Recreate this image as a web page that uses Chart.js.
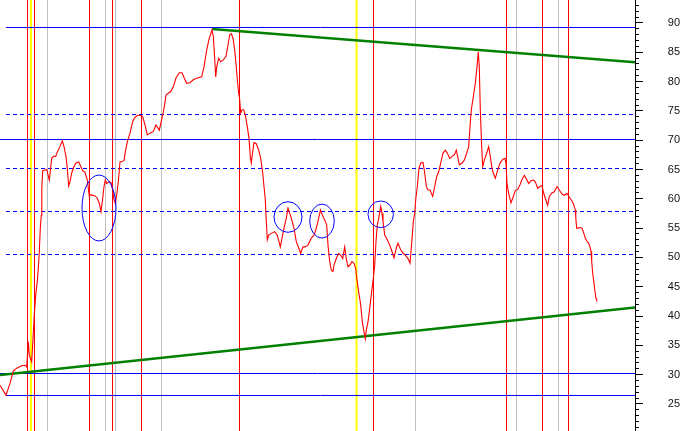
<!DOCTYPE html>
<html>
<head>
<meta charset="utf-8">
<script src="https://cdn.jsdelivr.net/npm/chart.js@4/dist/chart.umd.min.js"></script>
<style>
  html, body { margin: 0; padding: 0; background: #fff; }
  #wrap { width: 686px; height: 431px; }
</style>
</head>
<body>
<div id="wrap"><canvas id="chart"></canvas></div>
<script>
// axis range (price units) and x range (trading days)
const yMin = 20.38, yMax = 93.92;
const xMin = 0, xMax = 635;
const tickLabels = [25, 30, 35, 40, 45, 50, 55, 60, 65, 70, 75, 80, 85, 90];

// price line
const dayIdx = [0, 6, 10, 13.3, 16.7, 21.7, 25, 26.7, 28.3, 29.3, 31.7, 33.3, 34.3, 35.7, 37.3, 38.3, 39.3, 40.3, 41.3, 41.8,
  42.7, 45, 46.7, 49.3, 51.7, 54, 55.7, 57.3, 60, 62.3, 64, 66, 67.3, 68.7, 70, 71.7, 74, 76, 78.7, 80,
  82.7, 85, 87.3, 89.3, 90.7, 95, 97.3, 99.3, 101, 102.7, 104, 105.3, 106.7, 108.7, 111, 112.7, 114, 115.3, 116.7, 118.3,
  120, 122.7, 124, 125.3, 127.3, 130, 132.7, 135, 137.3, 140, 142.7, 145, 147.3, 150, 153.3, 156, 159.3, 162.7, 164.3, 166,
  168.3, 170.7, 173.3, 176, 179.3, 182, 184, 186.7, 190, 193.3, 197.3, 201.7, 204, 206.7, 209.3, 212, 213.3, 214.3, 215.7, 216.7,
  218.7, 220.7, 223.3, 226, 228.3, 229.7, 231.3, 233, 234.7, 236.3, 237.3, 238.7, 239.7, 240.7, 242, 243.7, 245.3, 247.3, 249, 250.3,
  251.3, 252.7, 254, 256.3, 258.7, 260.7, 262.7, 264, 265.3, 266, 267.3, 268.7, 271.3, 274.7, 277.3, 279, 280.3, 282, 284, 286.3,
  288, 291.3, 294, 296.3, 298.7, 300.7, 303, 305.3, 308, 311.3, 314, 316.3, 318.7, 320.5, 323, 324.7, 326.7, 328, 329.7, 331.3,
  333, 334, 336.3, 338.7, 340.7, 342.7, 344.7, 346.3, 348, 350, 352, 354, 355.7, 357, 358.7, 360.7, 362.3, 364, 365.3, 366.3,
  368, 369.7, 371.3, 372.7, 373.7, 374.7, 376, 377.3, 378.7, 380.7, 382, 383, 384.7, 387.3, 389.7, 392, 394, 396.3, 398, 400.7,
  403, 405.3, 408, 410, 411.3, 412.3, 413.3, 414.7, 415.7, 417.3, 419, 420.7, 423, 424.7, 426.3, 428, 430, 432.7, 434.7, 436.7,
  438.7, 440.7, 443, 445.3, 447.3, 449.7, 452, 454.7, 456.3, 457.7, 459.3, 462, 464.3, 466.7, 468.7, 470, 471.3, 473.3, 475.3, 477,
  478.3, 479.3, 480.3, 481.7, 482.7, 484.3, 486.7, 488.7, 490.3, 492, 493.3, 495.3, 497.7, 500, 502.7, 505, 506, 507, 508.7, 511,
  513.3, 515.3, 517.7, 520, 522, 524.3, 526.7, 528.7, 531, 533.3, 535.3, 537.7, 540, 542, 543.3, 545.3, 547.7, 549.3, 552, 554.3,
  557, 559.3, 562, 564.3, 567, 569.3, 571.3, 573.3, 575.3, 575.8, 576.7, 578, 580, 582, 583.3, 585.3, 586.7, 588.7, 590, 591,
  591.7, 592.7, 594, 595, 596, 596.7];
const price = [28.2, 26.5, 28.5, 30.6, 31.1, 31.5, 31.6, 31.3, 35.6, 33.3, 32.2, 37.0, 40.2, 43.6, 45.9, 48.1, 51.0, 55.0, 57.2, 61.8,
  64.8, 64.9, 65.0, 63.2, 66.9, 67.3, 67.2, 68.0, 68.9, 69.9, 68.9, 67.2, 65.2, 62.2, 62.9, 64.4, 65.5, 66.1, 66.3, 65.8,
  64.8, 64.5, 63.2, 60.4, 60.7, 60.5, 60.1, 59.2, 57.8, 60.1, 62.1, 63.2, 62.6, 62.9, 62.8, 61.5, 59.8, 59.2, 60.6, 62.9,
  66.3, 66.4, 66.5, 68.0, 69.7, 71.2, 73.2, 73.9, 74.2, 74.3, 74.0, 72.6, 70.9, 71.2, 71.5, 72.6, 71.7, 74.3, 75.7, 77.7,
  78.0, 78.3, 79.1, 80.6, 81.5, 81.5, 80.7, 79.7, 79.8, 80.3, 80.6, 80.8, 82.5, 85.4, 87.4, 88.8, 87.7, 85.1, 80.8, 82.5,
  84.0, 83.4, 83.7, 84.3, 86.5, 88.0, 88.2, 87.4, 85.4, 82.5, 80.3, 78.0, 76.9, 74.6, 75.2, 75.2, 74.3, 72.3, 70.3, 67.2,
  66.1, 68.0, 69.6, 69.4, 68.3, 66.9, 64.4, 62.1, 59.8, 57.2, 53.0, 53.8, 54.1, 54.4, 53.8, 52.7, 51.8, 53.3, 55.0, 56.7,
  58.4, 56.7, 55.0, 52.7, 51.6, 50.7, 51.8, 51.8, 52.1, 53.3, 53.8, 55.0, 56.7, 58.1, 57.0, 56.4, 55.5, 52.1, 49.3, 47.8,
  47.6, 48.7, 49.8, 50.7, 50.4, 49.8, 51.8, 49.8, 48.4, 48.7, 49.3, 49.0, 48.1, 46.1, 44.1, 41.9, 39.0, 37.3, 36.1, 37.6,
  39.0, 41.3, 43.6, 45.6, 47.0, 48.7, 52.7, 55.5, 56.7, 58.7, 57.5, 56.1, 53.8, 53.0, 52.1, 51.0, 49.9, 51.6, 52.4, 51.3,
  50.7, 50.4, 49.8, 49.0, 51.6, 53.8, 56.1, 57.5, 59.8, 62.1, 65.2, 66.1, 66.2, 64.4, 62.1, 61.5, 61.5, 60.4, 62.1, 63.8,
  64.6, 66.1, 67.8, 68.3, 67.8, 66.9, 67.2, 67.6, 68.3, 67.2, 65.8, 66.1, 66.6, 67.8, 68.9, 72.3, 75.2, 77.4, 79.7, 82.5,
  85.1, 82.5, 75.2, 68.9, 65.5, 66.6, 67.8, 68.9, 67.2, 65.2, 64.4, 63.5, 64.9, 66.1, 66.7, 66.9, 66.1, 62.6, 60.9, 59.3,
  60.4, 61.4, 61.6, 62.4, 63.3, 64.0, 63.3, 62.6, 63.1, 63.2, 62.9, 61.8, 62.1, 62.3, 61.2, 60.1, 58.9, 60.4, 61.0, 61.2,
  62.1, 61.5, 60.8, 60.6, 60.9, 60.3, 59.8, 59.2, 58.1, 56.7, 55.0, 55.0, 55.1, 55.0, 54.4, 53.3, 52.8, 52.4, 51.8, 51.0,
  49.3, 47.3, 45.6, 44.1, 43.0, 42.7];

// trend lines: [start day, start price, end day, end price]
const upperTrend = [212, 88.98, 635, 83.31];
const lowerTrend = [0, 29.93, 635, 41.45];

// horizontal levels
const solidLevels = [89.23, 70.12, 30.19, 26.44];
const solidFrom = [6, 0, 0, 6];
const dashedLevels = [74.38, 65.17, 57.83, 50.50];
const dashedFrom = [6, 6, 6, 6];

// vertical markers (day) and their kind
const markerDays = [27.5, 34.5, 89.5, 112.5, 141.5, 239.5, 373.5, 506.5, 542.5, 568.5,
  31, 356.5,
  47.5, 105.5, 115.5, 161.5, 415.5, 516.5, 558.5];
const markerKind = ["r", "r", "r", "r", "r", "r", "r", "r", "r", "r",
  "y", "y",
  "g", "g", "g", "g", "g", "g", "g"];

// ellipses: centre day, centre price, half width (days), half height (price)
const ellDay = [99, 288, 322, 380.7];
const ellPrice = [58.43, 56.89, 56.2, 57.35];
const ellRx = [17, 14, 12.3, 12.7];
const ellRy = [5.63, 2.61, 2.9, 2.27];

const kindStyle = {
  r: { color: "#ff0000", width: 1 },
  y: { color: "#ffff00", width: 2 },
  g: { color: "#c0c0c0", width: 1 }
};

const datasets = [];
datasets.push({
  data: dayIdx.map((d, i) => ({ x: d, y: price[i] })),
  borderColor: "#ff0000", borderWidth: 1.1, pointRadius: 0, tension: 0
});
[upperTrend, lowerTrend].forEach(t => {
  datasets.push({
    data: [{ x: t[0], y: t[1] }, { x: t[2], y: t[3] }],
    borderColor: "#008000", borderWidth: 2.6, pointRadius: 0
  });
});
solidLevels.forEach((v, i) => {
  datasets.push({
    data: [{ x: solidFrom[i], y: v }, { x: xMax, y: v }],
    borderColor: "#0000ff", borderWidth: 1, pointRadius: 0
  });
});
dashedLevels.forEach((v, i) => {
  datasets.push({
    data: [{ x: dashedFrom[i], y: v }, { x: xMax, y: v }],
    borderColor: "#0000ff", borderWidth: 1, borderDash: [4, 3], pointRadius: 0
  });
});
markerDays.forEach((d, i) => {
  const st = kindStyle[markerKind[i]];
  datasets.push({
    data: [{ x: d, y: yMin }, { x: d, y: yMax }],
    borderColor: st.color, borderWidth: st.width, pointRadius: 0
  });
});

const extras = {
  id: "extras",
  afterDatasetsDraw(chart) {
    const { ctx, scales: { x, y } } = chart;
    ctx.save();
    ctx.strokeStyle = "#0000ff";
    ctx.lineWidth = 1;
    ellDay.forEach((d, i) => {
      const cx = x.getPixelForValue(d);
      const cy = y.getPixelForValue(ellPrice[i]);
      const rx = Math.abs(x.getPixelForValue(d + ellRx[i]) - cx);
      const ry = Math.abs(y.getPixelForValue(ellPrice[i] + ellRy[i]) - cy);
      ctx.beginPath();
      ctx.ellipse(cx, cy, rx, ry, 0, 0, Math.PI * 2);
      ctx.stroke();
    });
    ctx.restore();
  },
  afterDraw(chart) {
    // minor ticks every unit, long ones at the labels
    const { ctx, chartArea, scales: { y } } = chart;
    ctx.save();
    ctx.strokeStyle = "#000";
    ctx.lineWidth = 1;
    for (let v = Math.ceil(yMin); v <= Math.floor(yMax); v++) {
      const py = Math.floor(y.getPixelForValue(v)) + 0.5;
      const len = tickLabels.includes(v) ? 7 : 3;
      ctx.beginPath();
      ctx.moveTo(chartArea.right, py);
      ctx.lineTo(chartArea.right + 1 + len, py);
      ctx.stroke();
    }
    ctx.restore();
  }
};

new Chart(document.getElementById("chart"), {
  type: "line",
  data: { datasets },
  options: {
    responsive: true,
    maintainAspectRatio: false,
    animation: false,
    events: [],
    layout: { padding: { left: 0, top: 0, bottom: 0, right: 6 } },
    plugins: { legend: { display: false }, tooltip: { enabled: false } },
    scales: {
      x: { type: "linear", min: xMin, max: xMax, display: false },
      y: {
        position: "right",
        min: yMin,
        max: yMax,
        afterBuildTicks: s => { s.ticks = tickLabels.map(v => ({ value: v })); },
        afterFit: s => { s.width = 45; s.paddingTop = 0; s.paddingBottom = 0; },
        grid: { display: true, drawOnChartArea: false, drawTicks: false },
        border: { display: true, color: "#000", width: 1 },
        ticks: {
          crossAlign: "far",
          padding: 0,
          color: "#111",
          font: { family: "Liberation Sans", size: 11 }
        }
      }
    }
  },
  plugins: [extras]
});
</script>
</body>
</html>
